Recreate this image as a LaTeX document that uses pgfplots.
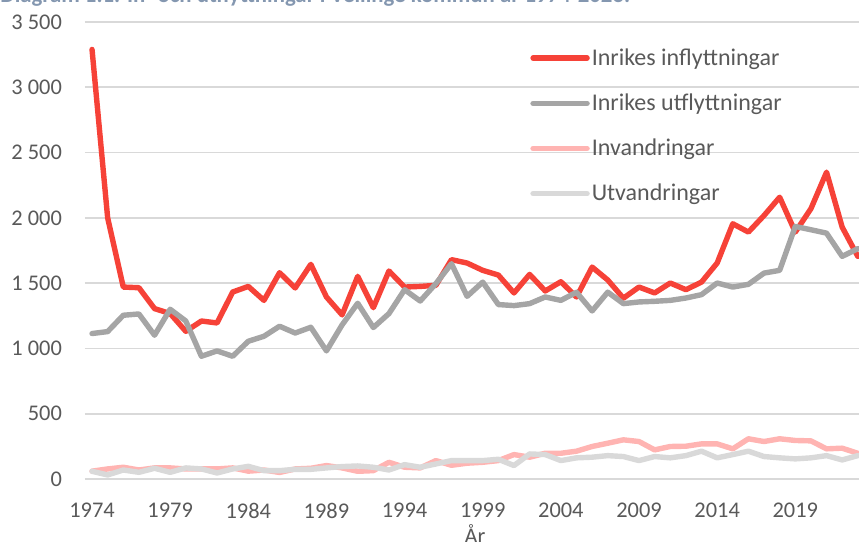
\documentclass[border=0pt]{standalone}
\usepackage{fontspec}
\setmainfont{Carlito}
\usepackage{pgfplots}
\pgfplotsset{compat=1.18}
\usepackage{pgfplotstable}
\definecolor{cRed}{RGB}{246,66,56}
\definecolor{cGray}{RGB}{165,165,165}
\definecolor{cPink}{RGB}{255,180,178}
\definecolor{cLGray}{RGB}{217,217,217}
\definecolor{cGrid}{RGB}{217,217,217}
\definecolor{cText}{RGB}{89,89,89}
\definecolor{cTitle}{RGB}{132,151,176}
\pgfplotstableread{
year inrin inrut invand utvand
1974 3290 1114 60 59
1975 2000 1129 77 31
1976 1470 1254 90 69
1977 1465 1264 69 51
1978 1305 1101 85 82
1979 1267 1300 85 51
1980 1131 1210 77 85
1981 1210 940 77 77
1982 1195 981 77 46
1983 1432 940 85 77
1984 1475 1055 60 97
1985 1368 1093 69 64
1986 1580 1170 50 64
1987 1463 1118 77 74
1988 1644 1162 82 74
1989 1394 981 103 85
1990 1257 1180 85 95
1991 1552 1346 59 100
1992 1312 1160 64 90
1993 1593 1267 128 69
1994 1470 1450 90 110
1995 1475 1363 85 90
1996 1483 1496 141 115
1997 1680 1649 105 141
1998 1654 1399 121 141
1999 1598 1508 128 141
2000 1562 1336 141 151
2001 1425 1328 187 103
2002 1567 1343 167 192
2003 1440 1394 197 187
2004 1511 1368 197 141
2005 1394 1430 213 162
2006 1623 1287 249 167
2007 1524 1431 274 179
2008 1385 1343 300 172
2009 1470 1356 287 141
2010 1425 1361 223 172
2011 1501 1368 249 162
2012 1450 1386 251 179
2013 1508 1412 269 213
2014 1654 1501 269 162
2015 1955 1470 231 187
2016 1891 1491 308 213
2017 2018 1577 287 172
2018 2158 1598 308 162
2019 1891 1934 295 154
2020 2070 1909 292 162
2021 2350 1883 231 179
2022 1929 1705 236 146
2023 1705 1764 197 179
}\datatable
\begin{document}
\begin{tikzpicture}
\useasboundingbox (0pt,0pt) rectangle (429.5pt,271pt);
\clip (0pt,0pt) rectangle (429.5pt,271pt);
\node[anchor=base west, inner sep=0pt, font=\fontsize{11.4}{13}\selectfont\bfseries, text=cTitle] at (0pt,269.6pt) {Diagram 1.1. In- och utflyttningar i Vellinge kommun år 1974-2023.};
\begin{axis}[
  at={(42.5pt,31.5pt)}, anchor=south west,
  scale only axis,
  width=390pt, height=228.5pt,
  xmin=1973.55, xmax=2023.46,
  ymin=0, ymax=3500,
  axis line style={draw=none},
  tick style={draw=none},
  major tick length=0pt,
  ytick={0,500,1000,1500,2000,2500,3000,3500},
  yticklabels={0,500,1 000,1 500,2 000,2 500,3 000,3 500},
  xtick={1974,1979,1984,1989,1994,1999,2004,2009,2014,2019},
  xticklabels={1974,1979,1984,1989,1994,1999,2004,2009,2014,2019},
  ymajorgrids,
  grid style={draw=cGrid, line width=0.8pt},
  ticklabel style={font=\fontsize{11.2}{13}\selectfont, text=cText},
  xticklabel style={yshift=-8.5pt},
  yticklabel style={xshift=-8pt},
  xlabel={År},
  xlabel style={font=\fontsize{11.2}{13}\selectfont, text=cText, yshift=4pt},
  legend cell align=left,
  legend image code/.code={\draw[#1, line cap=round] (0pt,0pt) -- (27pt,0pt);},
  legend style={at={(0.5705,0.952)}, anchor=north west, draw=none, fill=none,
    font=\fontsize{12}{14}\selectfont, text=cText, row sep=8.75pt, inner sep=0pt,
    nodes={inner xsep=1pt}},
  every axis plot/.append style={line width=2.7pt, line join=round, line cap=round},
]
\addplot[color=cRed] table[x=year,y=inrin] {\datatable};
\addlegendentry{Inrikes inflyttningar}
\addplot[color=cGray] table[x=year,y=inrut] {\datatable};
\addlegendentry{Inrikes utflyttningar}
\addplot[color=cPink] table[x=year,y=invand] {\datatable};
\addlegendentry{Invandringar}
\addplot[color=cLGray] table[x=year,y=utvand] {\datatable};
\addlegendentry{Utvandringar}
\end{axis}
\end{tikzpicture}
\end{document}
